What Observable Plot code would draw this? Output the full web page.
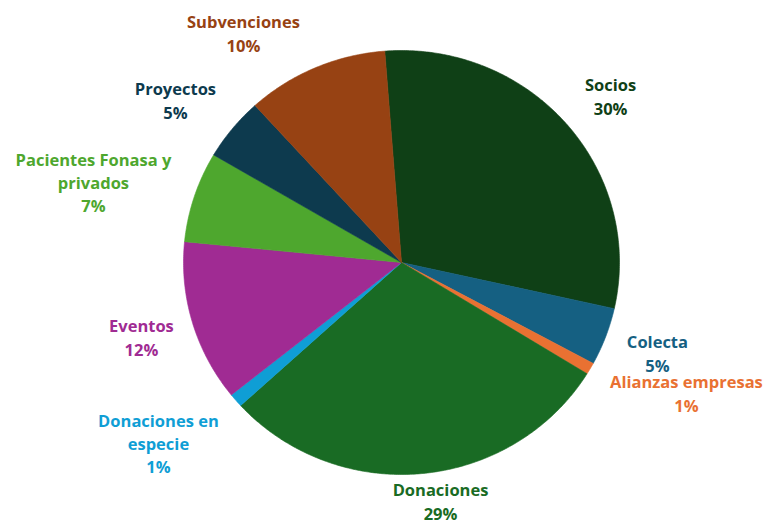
<!DOCTYPE html>
<html>
<head>
<meta charset="utf-8">
<script src="https://cdn.jsdelivr.net/npm/d3@7"></script>
<script src="https://cdn.jsdelivr.net/npm/@observablehq/plot@0.6"></script>
<style>
  html, body { margin: 0; padding: 0; background: #fff; }
  #chart { width: 767px; height: 520px; overflow: hidden; }
</style>
</head>
<body>
<div id="chart"></div>
<script>
// Categories, in clockwise order starting near 12 o'clock
const categories = ["Socios", "Colecta", "Alianzas empresas", "Donaciones", "Donaciones en especie", "Eventos", "Pacientes Fonasa y privados", "Proyectos", "Subvenciones"];
// Slice shares (percent of total)
const shares = [29.7, 4.4, 0.9, 29.4, 1.05, 12.3, 6.9, 4.8, 10.5];
// Percent labels as printed
const percentLabels = ["30%", "5%", "1%", "29%", "1%", "12%", "7%", "5%", "10%"];
// Label text lines (with manual breaks as in the picture)
const labelNames = ["Socios", "Colecta", "Alianzas empresas", "Donaciones", "Donaciones en\nespecie", "Eventos", "Pacientes Fonasa y\nprivados", "Proyectos", "Subvenciones"];
// Slice colours
const colors = ["#0F4016", "#156082", "#E97132", "#196B24", "#0F9ED5", "#A02B93", "#4EA72E", "#0D3A4E", "#974213"];

// Layout (kept apart from the data): first slice angle and label anchors in unit-circle coordinates
const startAngleDeg = -4.4;
const labelU = [0.959, 1.174, 1.307, 0.179, -1.115, -1.193, -1.413, -1.037, -0.725];
const labelV = [0.788, -0.425, -0.613, -1.122, -0.849, -0.349, 0.382, 0.769, 1.085];

// Build slice polygons
const total = d3.sum(shares);
const slices = [];
let acc = startAngleDeg;
categories.forEach((cat, i) => {
  const a0 = acc;
  const a1 = acc + shares[i] / total * 360;
  acc = a1;
  const pts = [{cat, color: colors[i], x: 0, y: 0}];
  const n = Math.max(2, Math.ceil((a1 - a0) / 0.5));
  for (let k = 0; k <= n; k++) {
    const a = (a0 + (a1 - a0) * k / n) * Math.PI / 180;
    pts.push({cat, color: colors[i], x: Math.sin(a), y: Math.cos(a)});
  }
  pts.push({cat, color: colors[i], x: 0, y: 0});
  slices.push(...pts);
});

const labels = categories.map((c, i) => ({
  text: labelNames[i] + "\n" + percentLabels[i],
  color: colors[i],
  u: labelU[i],
  v: labelV[i]
}));

const chart = Plot.plot({
  width: 767,
  height: 520,
  margin: 0,
  style: {background: "#fff", fontFamily: "'Open Sans', Lato, sans-serif"},
  x: {domain: [-1, 1], range: [183, 619], axis: null},
  y: {domain: [-1, 1], range: [474, 50], axis: null},
  marks: [
    Plot.line(slices, {x: "x", y: "y", z: "cat", fill: "color", stroke: "color", strokeWidth: 0.6, curve: "linear"}),
    Plot.text(labels, {
      x: "u", y: "v", text: "text", fill: "color",
      fontSize: 16.5, fontWeight: "bold", lineHeight: 1.42,
      textAnchor: "middle", lineAnchor: "middle"
    })
  ]
});
document.getElementById("chart").appendChild(chart);
</script>
</body>
</html>
